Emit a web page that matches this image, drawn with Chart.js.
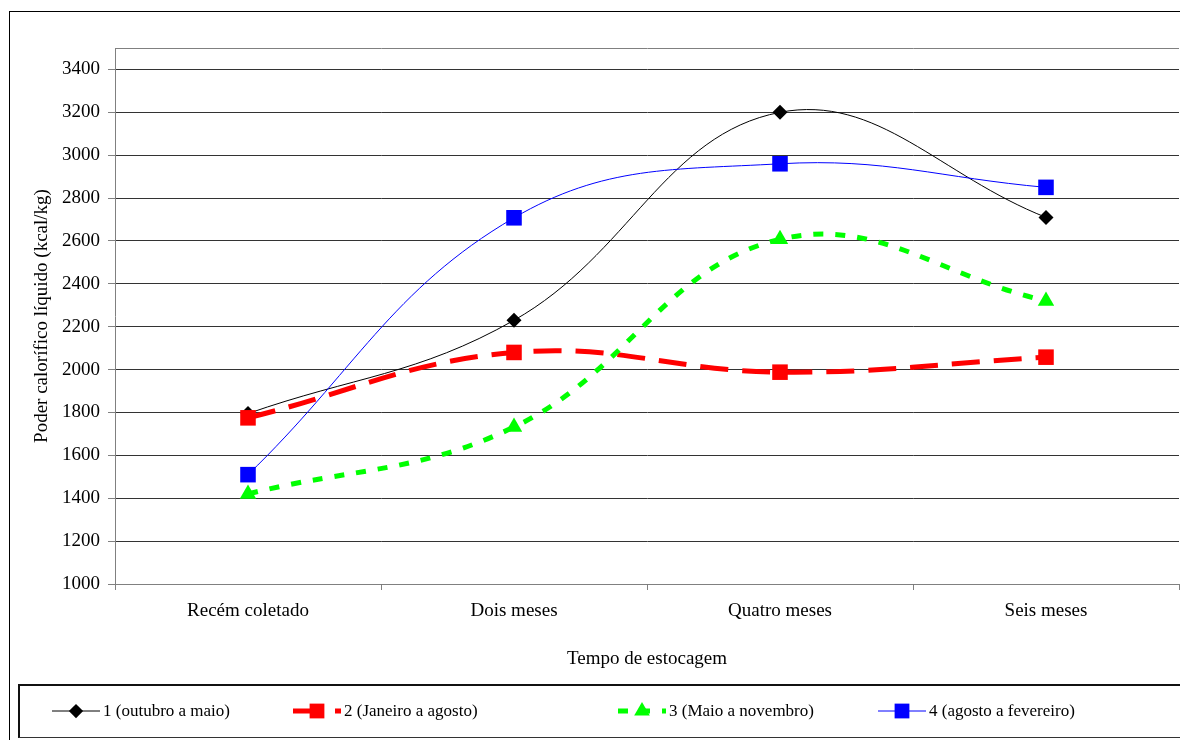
<!DOCTYPE html>
<html>
<head>
<meta charset="utf-8">
<script src="https://cdn.jsdelivr.net/npm/chart.js"></script>
<style>
    html, body { margin: 0; padding: 0; background: #fff; overflow: hidden; }
    body { width: 1180px; height: 740px; position: relative; }
    #frame { position: absolute; left: 9px; top: 11px; width: 1300px; height: 900px; border-left: 1px solid #000; border-top: 1px solid #000; }
    #legendBox { position: absolute; left: 18px; top: 684px; width: 1300px; height: 51px; border-top: 2px solid #111; border-left: 2px solid #111; border-bottom: 1px solid #333; }
    #lineCanvas { position: absolute; left: 0; top: 0; }
</style>
</head>
<body>
<div id="frame"></div>
<div id="legendBox"></div>
<canvas id="lineCanvas" width="1190" height="740"></canvas>
<script>
    // 資料
    var categories = ['Recém coletado', 'Dois meses', 'Quatro meses', 'Seis meses'];
    var seriesLabels = ['1 (outubro a maio)', '2 (Janeiro a agosto)', '3 (Maio a novembro)', '4 (agosto a fevereiro)'];
    var serie1 = [1795, 2230, 3200, 2710];
    var serie2 = [1775, 2080, 1988, 2058];
    var serie3 = [1420, 1732, 2608, 2320];
    var serie4 = [1510, 2708, 2960, 2850];
    var yTicks = [1000, 1200, 1400, 1600, 1800, 2000, 2200, 2400, 2600, 2800, 3000, 3200, 3400];
    var yMin = 1000;
    var yMax = 3500;

    var serifFont = "'Liberation Serif', 'Times New Roman', serif";

    // 圖例 (每個項目的起點)
    var legendX = [52, 293, 618, 878];
    var legendY = 711;

    var datasets = [{
        label: seriesLabels[0],
        data: serie1,
        borderColor: '#000000',
        backgroundColor: '#000000',
        borderWidth: 1,
        pointStyle: 'rectRot',
        pointRadius: 7.5,
        order: 4
    }, {
        label: seriesLabels[1],
        data: serie2,
        borderColor: '#ff0000',
        backgroundColor: '#ff0000',
        borderWidth: 5,
        borderDash: [28, 14],
        pointStyle: 'rect',
        pointRadius: 11,
        order: 3
    }, {
        label: seriesLabels[2],
        data: serie3,
        borderColor: '#00ff00',
        backgroundColor: '#00ff00',
        borderWidth: 5,
        borderDash: [10, 12],
        pointStyle: 'triangle',
        pointRadius: 9.5,
        order: 2
    }, {
        label: seriesLabels[3],
        data: serie4,
        borderColor: '#0000ff',
        backgroundColor: '#0000ff',
        borderWidth: 1,
        pointStyle: 'rect',
        pointRadius: 11,
        order: 1
    }];

    datasets.forEach(function (ds) {
        ds.tension = 0.4;
        ds.fill = false;
        ds.pointBorderWidth = 0;
        ds.pointHoverRadius = ds.pointRadius;
        ds.pointBackgroundColor = ds.borderColor;
    });

    // 自訂圖例
    var legendPlugin = {
        id: 'excelLegend',
        afterDraw: function (chart) {
            var ctx = chart.ctx;
            chart.data.datasets.forEach(function (ds, i) {
                var x0 = legendX[i];
                ctx.save();
                ctx.strokeStyle = ds.borderColor;
                ctx.lineWidth = ds.borderWidth;
                ctx.setLineDash(ds.borderDash || []);
                ctx.beginPath();
                ctx.moveTo(x0, legendY);
                ctx.lineTo(x0 + 48, legendY);
                ctx.stroke();
                ctx.setLineDash([]);
                ctx.fillStyle = ds.borderColor;
                ctx.strokeStyle = ds.borderColor;
                Chart.helpers.drawPoint(ctx, {
                    pointStyle: ds.pointStyle,
                    radius: ds.pointRadius * 0.95,
                    rotation: 0,
                    borderWidth: 0
                }, x0 + 24, legendY);
                ctx.fillStyle = '#000';
                ctx.font = '17px ' + serifFont;
                ctx.textBaseline = 'middle';
                ctx.textAlign = 'left';
                ctx.fillText(ds.label, x0 + 51, legendY + 1);
                ctx.restore();
            });
        }
    };

    window.onload = function () {
        var ctx = document.getElementById('lineCanvas').getContext('2d');
        window.myLine = new Chart(ctx, {
            type: 'line',
            data: {
                labels: categories,
                datasets: datasets
            },
            options: {
                responsive: false,
                animation: false,
                layout: {
                    padding: { top: 48, right: 8, bottom: 0, left: 0 }
                },
                plugins: {
                    legend: { display: false },
                    tooltip: { enabled: false }
                },
                scales: {
                    x: {
                        offset: true,
                        grid: {
                            offset: true,
                            drawOnChartArea: false,
                            tickLength: 6,
                            color: '#808080'
                        },
                        border: { color: '#808080' },
                        ticks: {
                            color: '#000',
                            padding: 10,
                            maxRotation: 0,
                            font: { family: serifFont, size: 19 }
                        },
                        title: {
                            display: true,
                            text: 'Tempo de estocagem',
                            color: '#000',
                            padding: { top: 0, bottom: 70 },
                            font: { family: serifFont, size: 19 }
                        },
                        afterFit: function (scale) {
                            scale.height = 156;
                        }
                    },
                    y: {
                        min: yMin,
                        max: yMax,
                        afterBuildTicks: function (scale) {
                            // 刻度 + 上框線
                            scale.ticks = yTicks.map(function (v) { return { value: v }; });
                            scale.ticks.push({ value: yMax });
                        },
                        grid: {
                            tickLength: 7,
                            color: function (c) {
                                return c.tick && c.tick.value === yMax ? '#808080' : '#333333';
                            },
                            tickColor: function (c) {
                                return c.tick && c.tick.value === yMax ? 'rgba(0,0,0,0)' : '#808080';
                            }
                        },
                        border: { color: '#808080' },
                        ticks: {
                            color: '#000',
                            padding: 8,
                            font: { family: serifFont, size: 19 },
                            callback: function (v) {
                                return v === yMax ? '' : v;
                            }
                        },
                        title: {
                            display: true,
                            text: 'Poder calorífico líquido (kcal/kg)',
                            color: '#000',
                            padding: { top: 31, bottom: 0 },
                            font: { family: serifFont, size: 19 }
                        },
                        afterFit: function (scale) {
                            scale.width = 115;
                        }
                    }
                }
            },
            plugins: [legendPlugin]
        });
    };
</script>
</body>
</html>
